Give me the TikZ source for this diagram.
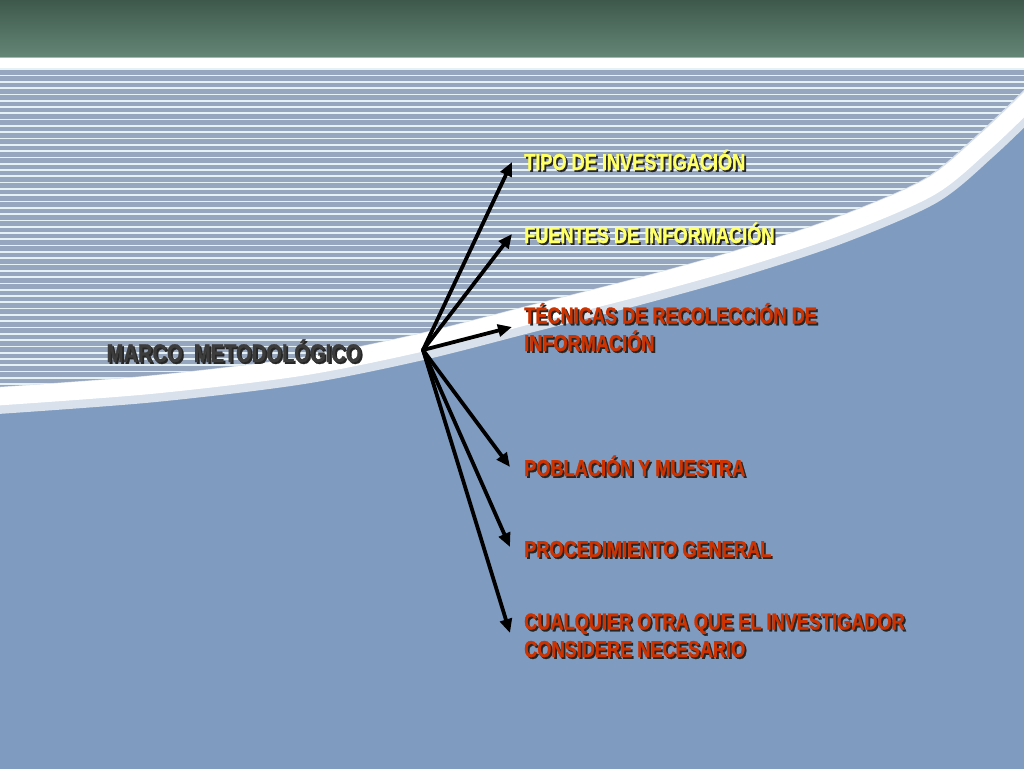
\documentclass[tikz,border=0pt]{standalone}
\usepackage{fontspec}
\usetikzlibrary{arrows.meta}
\newfontfamily\slidefont[FakeStretch=0.79,FakeBold=1.2]{Liberation Sans Bold}
\definecolor{headtop}{HTML}{3E594C}
\definecolor{headbot}{HTML}{648676}
\definecolor{seablue}{HTML}{7F9BBF}
\definecolor{stripebase}{HTML}{97A6BF}
\definecolor{stripeline}{HTML}{E6F1F5}
\definecolor{lemon}{HTML}{FFFF66}
\definecolor{brick}{HTML}{CC3300}
\definecolor{slate}{HTML}{3C3C3C}
\newcommand{\shtext}[1]{\makebox[0pt][l]{\hspace{1.8pt}\raisebox{-1.8pt}{\color{black!85}#1}}#1}
\begin{document}
\begin{tikzpicture}[x=1pt, y=-1pt, >={Triangle[length=14pt,width=12pt]}, line cap=round, line join=round,
    item/.style={anchor=base west, inner sep=0pt, align=left, font=\slidefont\fontsize{23}{27.5}\selectfont},
    arr/.style={->, line width=3.8pt, black}]
    \useasboundingbox (0,0) rectangle (1024,768);
    \fill[seablue] (0,0) rectangle (1024,768);
    \shade[top color=headtop, bottom color=headbot] (0,0) rectangle (1024,57);
    \fill[white] (0,57) rectangle (1024,68);
    \draw[gray!60, line width=1pt] (0,57.5) -- (1024,57.5);
    \fill[stripebase] (0,68) rectangle (1024,430);
    \foreach \k in {0,...,57}
        \fill[stripeline] (0,{68.3+6.3*\k}) rectangle (1024,{70+6.3*\k});
    \fill[seablue] plot[smooth] coordinates {(-10,400) (150,388) (300,370) (420,346) (530,318) (640,290) (740,262) (840,229) (930,190) (985,145) (1034,98)}
        -- (1034,780) -- (-10,780) -- cycle;
    \draw[line width=27pt, white!70!seablue] plot[smooth] coordinates {(-10,401) (150,389) (300,371) (420,347) (530,319) (640,291) (740,263) (840,230) (930,191) (985,146) (1034,99)};
    \draw[line width=18pt, white] plot[smooth] coordinates {(-10,397) (150,385) (300,367) (420,343) (530,315) (640,287) (740,259) (840,226) (930,187) (985,142) (1034,95)};

    \node[anchor=base, inner sep=0pt, text=slate, font=\slidefont\fontsize{25.5}{29}\selectfont] (marco) at (234,362) {\shtext{MARCO\ \ METODOLÓGICO}};
    \coordinate (hub) at (423,350);

    \node[item, text=lemon] (tipo) at (524,170) {\shtext{TIPO DE INVESTIGACIÓN}};
    \node[item, text=lemon] (fuentes) at (524,243) {\shtext{FUENTES DE INFORMACIÓN}};
    \node[item, text=brick] (tecnicas) at (524,351) {\shtext{TÉCNICAS DE RECOLECCIÓN DE}\\\shtext{INFORMACIÓN}};
    \node[item, text=brick] (poblacion) at (524,476) {\shtext{POBLACIÓN Y MUESTRA}};
    \node[item, text=brick] (proced) at (524,557) {\shtext{PROCEDIMIENTO GENERAL}};
    \node[item, text=brick] (otra) at (524,657) {\shtext{CUALQUIER OTRA QUE EL INVESTIGADOR}\\\shtext{CONSIDERE NECESARIO}};

    \draw[arr] (hub) -- ([xshift=-12pt,yshift=8pt]tipo.base west);
    \draw[arr] (hub) -- ([xshift=-12pt,yshift=9pt]fuentes.base west);
    \draw[arr] (hub) -- ([xshift=-12pt,yshift=24pt]tecnicas.base west);
    \draw[arr] (hub) -- ([xshift=-14pt,yshift=9pt]poblacion.base west);
    \draw[arr] (hub) -- ([xshift=-14pt,yshift=10pt]proced.base west);
    \draw[arr] (hub) -- ([xshift=-14pt,yshift=24pt]otra.base west);
\end{tikzpicture}
\end{document}
